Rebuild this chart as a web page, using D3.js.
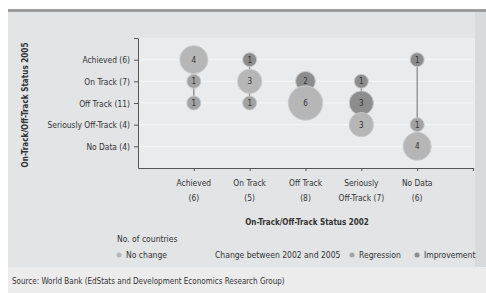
<!DOCTYPE html>
<html>
<head>
<meta charset="utf-8">
<script src="https://cdn.jsdelivr.net/npm/d3@7"></script>
<style>
  body { margin: 0; background: #fff; }
  svg text { font-family: "DejaVu Sans Condensed", "DejaVu Sans", sans-serif; font-stretch: condensed; fill: #333; }
</style>
</head>
<body>
<script>
// status categories (2002 on x, 2005 on y)
var xLabels = [["Achieved", "(6)"], ["On Track", "(5)"], ["Off Track", "(8)"], ["Seriously", "Off-Track (7)"], ["No Data", "(6)"]];
var yLabels = ["Achieved (6)", "On Track (7)", "Off Track (11)", "Seriously Off-Track (4)", "No Data (4)"];

// one entry per bubble: status 2002 index, status 2005 index, number of countries, change type
var from2002 = [0, 0, 0, 1, 1, 1, 2, 2, 3, 3, 3, 4, 4, 4];
var to2005   = [0, 1, 2, 0, 1, 2, 1, 2, 1, 2, 3, 0, 3, 4];
var counts   = [4, 1, 1, 1, 3, 1, 2, 6, 1, 3, 3, 1, 1, 4];
var changes  = ["none", "reg", "reg", "imp", "none", "reg", "imp", "none", "imp", "imp", "none", "imp", "reg", "none"];

var legendKeys = ["none", "reg", "imp"];
var legendNames = ["No change", "Regression", "Improvement"];

var W = 486, H = 293;
var plot = {left: 138, right: 473, top: 38, bottom: 168};

// narrow the glyphs a bit, the original uses a condensed face
function squeeze(sel, k) {
  sel.each(function() {
    var len = this.getComputedTextLength();
    d3.select(this).attr("textLength", len * k).attr("lengthAdjust", "spacingAndGlyphs");
  });
}

var svg = d3.select("body").append("svg")
    .attr("width", W)
    .attr("height", H);

// backgrounds
svg.append("rect").attr("x", 8).attr("y", 12).attr("width", W - 8).attr("height", 255).attr("fill", "#e2e4e6");
svg.append("rect").attr("x", 8).attr("y", 267).attr("width", W - 8).attr("height", 26).attr("fill", "#ececec");
svg.append("rect").attr("x", 475).attr("y", 12).attr("width", 11).attr("height", 255).attr("fill", "#d9dadc");
svg.append("rect").attr("x", 8).attr("y", 9).attr("width", W - 8).attr("height", 3).attr("fill", "#9c9c9c");
svg.append("rect").attr("x", plot.left).attr("y", plot.top).attr("width", 475 - plot.left).attr("height", plot.bottom - plot.top)
    .attr("fill", "#eaebed");

var x = d3.scaleLinear().domain([0, 6]).range([plot.left, plot.right]);
var y = d3.scaleLinear().domain([0, 6]).range([plot.top, plot.bottom]);
var r = d3.scaleSqrt().domain([0, 1]).range([0, 7]);
var color = d3.scaleOrdinal().domain(legendKeys).range(["#b6b6b6", "#a2a2a2", "#8d8d8d"]);

// faint row lines
svg.append("g").selectAll("line")
    .data(yLabels)
    .enter().append("line")
    .attr("x1", plot.left + 1).attr("x2", 473)
    .attr("y1", function(d, i) { return y(i + 1); })
    .attr("y2", function(d, i) { return y(i + 1); })
    .attr("stroke", "#f6f6f7").attr("stroke-width", 1);

// axes
var yAxis = svg.append("g")
    .attr("transform", "translate(" + plot.left + ",0)")
    .call(d3.axisLeft(y).tickValues([0, 1, 2, 3, 4, 5]).tickSize(4).tickSizeOuter(0)
      .tickFormat(function(d) { return d > 0 ? yLabels[d - 1] : ""; }));
yAxis.select(".domain").attr("stroke", "#555");
yAxis.selectAll(".tick line").attr("stroke", "#555");
yAxis.selectAll("text").attr("font-size", 9.5).attr("fill", "#333")
    .style("font-family", null).attr("x", -8)
    .call(squeeze, 0.88);

var xAxis = svg.append("g")
    .attr("transform", "translate(0," + plot.bottom + ")")
    .call(d3.axisBottom(x).tickValues([1, 2, 3, 4, 5, 6]).tickSize(3).tickSizeOuter(0).tickFormat(""));
xAxis.select(".domain").attr("stroke", "#555");
xAxis.selectAll(".tick line").attr("stroke", "#555");

var xl = svg.append("g").selectAll("text")
    .data(xLabels)
    .enter().append("text")
    .attr("x", function(d, i) { return x(i + 1); })
    .attr("y", 186)
    .attr("text-anchor", "middle")
    .attr("font-size", 9.5);
xl.append("tspan").attr("x", function(d, i) { return x(i + 1); }).text(function(d) { return d[0]; });
xl.append("tspan").attr("x", function(d, i) { return x(i + 1); }).attr("dy", 15).text(function(d) { return d[1]; });
xl.selectAll("tspan").call(squeeze, 0.88);

// axis titles
svg.append("text")
    .attr("x", 307).attr("y", 225)
    .attr("text-anchor", "middle")
    .attr("font-size", 9.5).attr("font-weight", "bold")
    .text("On-Track/Off-Track Status 2002")
    .call(squeeze, 0.84);

svg.append("text")
    .attr("transform", "translate(28,105) rotate(-90)")
    .attr("text-anchor", "middle")
    .attr("font-size", 9.5).attr("font-weight", "bold")
    .text("On-Track/Off-Track Status 2005")
    .call(squeeze, 0.85);

// connecting lines per 2002 column
var cols = d3.range(xLabels.length).map(function(c) {
  var ys = to2005.filter(function(t, i) { return from2002[i] === c; });
  return {c: c, lo: d3.min(ys), hi: d3.max(ys)};
});
svg.append("g").selectAll("line")
    .data(cols)
    .enter().append("line")
    .attr("x1", function(d) { return x(d.c + 1); })
    .attr("x2", function(d) { return x(d.c + 1); })
    .attr("y1", function(d) { return y(d.lo + 1); })
    .attr("y2", function(d) { return y(d.hi + 1); })
    .attr("stroke", "#6f6f6f").attr("stroke-width", 1);

// bubbles
var bubbles = svg.append("g").selectAll("g")
    .data(counts.map(function(n, i) { return {n: n, c: from2002[i], s: to2005[i], ch: changes[i]}; }))
    .enter().append("g")
    .attr("transform", function(d) { return "translate(" + x(d.c + 1) + "," + y(d.s + 1) + ")"; });

bubbles.append("circle")
    .attr("r", function(d) { return r(d.n); })
    .attr("fill", function(d) { return color(d.ch); })
    .attr("stroke", "#c9c9c9").attr("stroke-width", 1);

bubbles.append("text")
    .attr("text-anchor", "middle")
    .attr("dy", 3)
    .attr("font-size", 8)
    .attr("fill", "#4a4a4a")
    .text(function(d) { return d.n; });

// legend
svg.append("text").attr("x", 117).attr("y", 242).attr("font-size", 8.5).text("No. of countries");
svg.append("text").attr("x", 215).attr("y", 258).attr("font-size", 8.5).text("Change between 2002 and 2005");

var legendX = [119, 352, 417];
var lg = svg.append("g").selectAll("g")
    .data(legendKeys)
    .enter().append("g")
    .attr("transform", function(d, i) { return "translate(" + legendX[i] + ",255)"; });
lg.append("circle").attr("r", 2.5).attr("fill", function(d) { return color(d); });
lg.append("text").attr("x", 7).attr("y", 3).attr("font-size", 8.5)
    .text(function(d, i) { return legendNames[i]; });

// source
svg.append("text").attr("x", 12).attr("y", 284).attr("font-size", 8)
    .text("Source: World Bank (EdStats and Development Economics Research Group)");
</script>
</body>
</html>
